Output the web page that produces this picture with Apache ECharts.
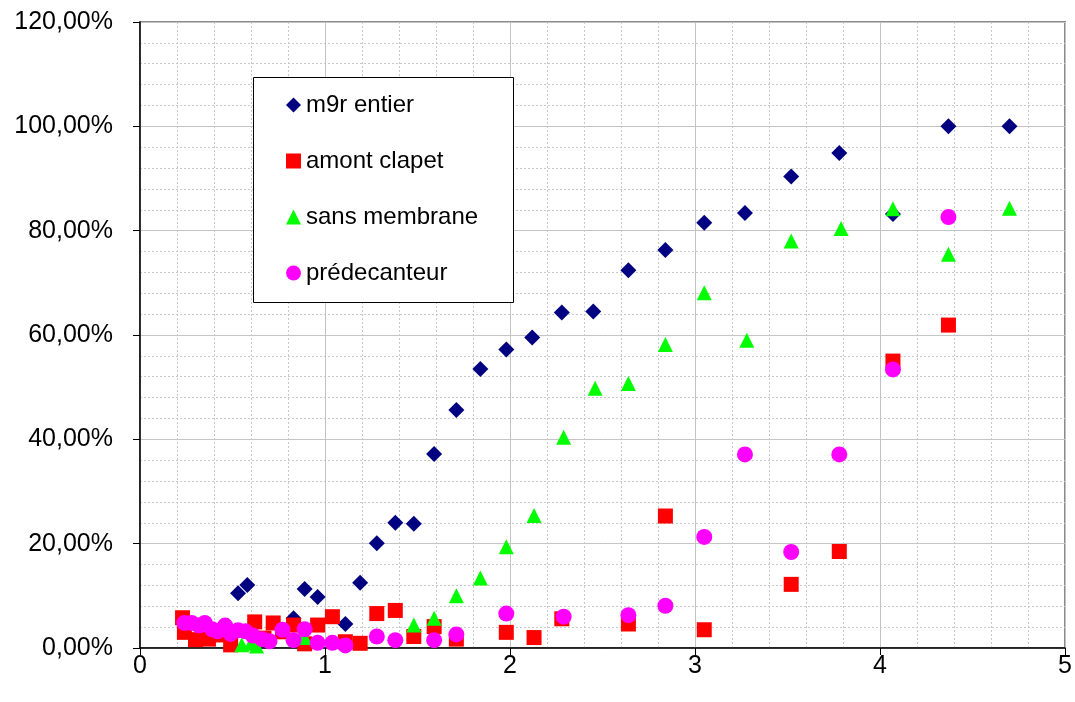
<!DOCTYPE html>
<html>
<head>
<meta charset="utf-8">
<script src="https://cdn.jsdelivr.net/npm/echarts@6/dist/echarts.min.js"></script>
<style>
  html, body { margin: 0; padding: 0; background: #fff; }
  #chart { width: 1075px; height: 702px; }
</style>
</head>
<body>
<div id="chart"></div>
<script>
// series names (legend order)
const seriesNames = ['m9r entier', 'amont clapet', 'sans membrane', 'prédecanteur']

// [x, y %]
const m9rEntier = [
  [0.53, 10.5], [0.58, 12.1], [0.83, 5.7], [0.89, 11.3], [0.96, 9.8], [1.11, 4.6],
  [1.19, 12.5], [1.28, 20.1], [1.38, 24.0], [1.48, 23.8], [1.59, 37.2], [1.71, 45.6],
  [1.84, 53.5], [1.98, 57.2], [2.12, 59.5], [2.28, 64.3], [2.45, 64.5], [2.64, 72.4],
  [2.84, 76.3], [3.05, 81.5], [3.27, 83.4], [3.52, 90.4], [3.78, 94.9], [4.07, 83.2],
  [4.37, 100], [4.70, 100]
]
const amontClapet = [
  [0.23, 5.8], [0.24, 3.0], [0.30, 1.6], [0.37, 1.7], [0.42, 2.5], [0.49, 0.6],
  [0.62, 5.0], [0.67, 1.9], [0.72, 4.8], [0.77, 3.1], [0.83, 4.4], [0.89, 0.8],
  [0.96, 4.4], [1.04, 6.0], [1.11, 1.2], [1.19, 0.9], [1.28, 6.6], [1.38, 7.2],
  [1.48, 2.2], [1.59, 4.1], [1.71, 1.7], [1.98, 3.0], [2.13, 2.0], [2.28, 5.6],
  [2.64, 4.6], [2.84, 25.3], [3.05, 3.5], [3.52, 12.2], [3.78, 18.5], [4.07, 55.0],
  [4.37, 61.9]
]
const sansMembrane = [
  [0.55, 0.6], [0.60, 0.9], [0.63, 0.4], [0.89, 2.0], [1.48, 4.4], [1.59, 5.7],
  [1.71, 10.0], [1.84, 13.4], [1.98, 19.4], [2.13, 25.4], [2.29, 40.4], [2.46, 49.8],
  [2.64, 50.7], [2.84, 58.2], [3.05, 68.1], [3.28, 59.0], [3.52, 78.0], [3.79, 80.4],
  [4.07, 84.2], [4.37, 75.5], [4.70, 84.3]
]
const predecanteur = [
  [0.24, 4.8], [0.28, 4.8], [0.32, 4.3], [0.35, 4.8], [0.39, 3.6], [0.42, 3.2],
  [0.46, 4.3], [0.49, 2.7], [0.53, 3.4], [0.57, 3.2], [0.61, 2.4], [0.66, 1.7],
  [0.70, 1.3], [0.77, 3.5], [0.83, 1.5], [0.89, 3.6], [0.96, 1.0], [1.04, 1.0],
  [1.11, 0.5], [1.28, 2.2], [1.38, 1.5], [1.59, 1.5], [1.71, 2.6], [1.98, 6.6],
  [2.29, 6.0], [2.64, 6.3], [2.84, 8.1], [3.05, 21.3], [3.27, 37.1], [3.52, 18.4],
  [3.78, 37.1], [4.07, 53.4], [4.37, 82.6]
]

const seriesData = [m9rEntier, amontClapet, sansMembrane, predecanteur]
const symbols = ['diamond', 'rect', 'triangle', 'circle']
const symbolSizes = [16, 15, 15, 16]
const colors = ['#000080', '#ff0000', '#00ff00', '#ff00ff']

const fontFamily = '"Liberation Sans", Arial, sans-serif'

const chart = echarts.init(document.getElementById('chart'))

const series = seriesNames.map((name, i) => ({
  name,
  type: 'scatter',
  data: seriesData[i],
  symbol: symbols[i],
  symbolSize: symbolSizes[i],
  itemStyle: { color: colors[i], opacity: 1 },
  emphasis: { disabled: true },
  animation: false
}))

chart.setOption({
  animation: false,
  textStyle: { fontFamily },
  grid: {
    left: 140, right: 10, top: 22, bottom: 54,
    show: true,
    borderColor: '#8a8a8a',
    borderWidth: 2,
    backgroundColor: '#fff'
  },
  // legend frame
  graphic: [{
    type: 'rect',
    z: 3,
    shape: { x: 253.5, y: 77.5, width: 260, height: 225 },
    style: { fill: '#fff', stroke: '#000', lineWidth: 1 }
  }],
  legend: {
    orient: 'vertical',
    left: 286,
    top: 93,
    padding: 0,
    itemWidth: 15,
    itemHeight: 15,
    itemGap: 32,
    selectedMode: false,
    data: seriesNames.map((name, i) => ({ name, icon: symbols[i] })),
    textStyle: { fontSize: 24, color: '#000', fontFamily, lineHeight: 24 }
  },
  xAxis: {
    type: 'value',
    min: 0,
    max: 5,
    interval: 1,
    axisLine: { show: true, onZero: false, lineStyle: { color: '#000', width: 1.5 } },
    axisTick: { show: true, inside: false, length: 7, lineStyle: { color: '#000' } },
    axisLabel: { fontSize: 25, color: '#000', margin: 6, fontFamily },
    splitLine: { show: true, lineStyle: { color: '#c4c4c4', width: 1 } },
    minorTick: { show: false, splitNumber: 5 },
    minorSplitLine: { show: true, lineStyle: { color: '#c8c8c8', width: 1, type: [2, 2] } }
  },
  yAxis: {
    type: 'value',
    min: 0,
    max: 120,
    interval: 20,
    axisLine: { show: true, onZero: false, lineStyle: { color: '#000', width: 1.5 } },
    axisTick: { show: true, inside: false, length: 7, lineStyle: { color: '#000' } },
    axisLabel: {
      fontSize: 25,
      color: '#000',
      margin: 27,
      fontFamily,
      formatter: v => v.toFixed(2).replace('.', ',') + '%'
    },
    splitLine: { show: true, lineStyle: { color: '#c4c4c4', width: 1 } },
    minorTick: { show: false, splitNumber: 5 },
    minorSplitLine: { show: true, lineStyle: { color: '#c8c8c8', width: 1, type: [2, 2] } }
  },
  series
})
</script>
</body>
</html>
